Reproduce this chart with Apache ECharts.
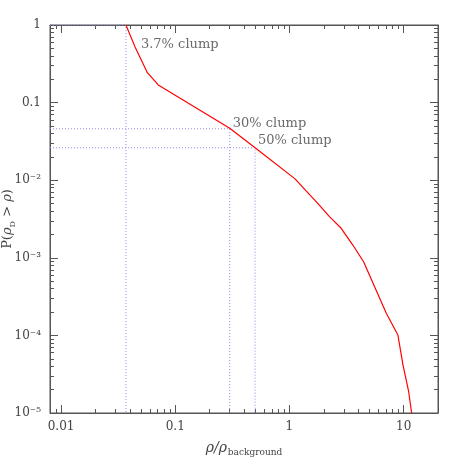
<!DOCTYPE html>
<html><head><meta charset="utf-8">
<script src="https://cdn.jsdelivr.net/npm/echarts@6/dist/echarts.min.js"></script>
<style>html,body{margin:0;padding:0;background:#fff}#c{width:463px;height:463px}</style>
</head><body><div id="c"></div>
<script>
// Cumulative distribution P(rho_D > rho) vs rho/rho_background
const rho  = [0.037, 0.045, 0.057, 0.071, 0.3, 0.5, 1.12, 1.40, 1.77, 2.24, 2.84, 3.59, 4.46, 7.05, 8.91, 9.87, 11.07, 11.75];
const prob = [1, 0.5, 0.243, 0.169, 0.0467, 0.0262, 0.0104, 0.0073, 0.00504, 0.00339, 0.0024, 0.00146, 0.00089, 1.93e-4, 1.01e-4, 4.16e-5, 1.88e-5, 1e-5];

// clump markers
const clumpRho = [0.037, 0.3, 0.5];
const clumpProb = [1, 0.046, 0.0262];
const clumpLabels = ['3.7% clump', '30% clump', '50% clump'];

// axes
const xMin = 0.008, xMax = 20;
const yMin = 1e-5, yMax = 1;
const xMajorTicks = [0.01, 0.1, 1, 10];
const xTickLabels = ['0.01', '0.1', '1', '10'];
const xAllTicks = [0.008, 0.009, 0.01, 0.02, 0.03, 0.04, 0.05, 0.06, 0.07, 0.08, 0.09, 0.1, 0.2, 0.3, 0.4, 0.5, 0.6, 0.7, 0.8, 0.9, 1, 2, 3, 4, 5, 6, 7, 8, 9, 10, 20];
const yMajorTicks = [1e-5, 1e-4, 1e-3, 1e-2, 0.1, 1];
const yTickLabels = ['10\u207B\u2075', '10\u207B\u2074', '10\u207B\u00B3', '10\u207B\u00B2', '0.1', '1'];
const yAllTicks = [1e-5,2e-5,3e-5,4e-5,5e-5,6e-5,7e-5,8e-5,9e-5,1e-4,2e-4,3e-4,4e-4,5e-4,6e-4,7e-4,8e-4,9e-4,1e-3,2e-3,3e-3,4e-3,5e-3,6e-3,7e-3,8e-3,9e-3,0.01,0.02,0.03,0.04,0.05,0.06,0.07,0.08,0.09,0.1,0.2,0.3,0.4,0.5,0.6,0.7,0.8,0.9,1];

const FONT = 'DejaVu Serif';
const TXT = '#444';
const AX = '#555';

function lab(ticks, labels) {
  return function (v) {
    let best = 0, bd = Infinity;
    for (let i = 0; i < ticks.length; i++) {
      const d = Math.abs(Math.log10(v) - Math.log10(ticks[i]));
      if (d < bd) { bd = d; best = i; }
    }
    return bd < 1e-6 ? labels[best] : '';
  };
}

function xAx(pos, values, len, withLabels, withLine, name) {
  const o = {
    type: 'log', logBase: 10, min: xMin, max: xMax, position: pos,
    axisLine: { show: withLine, lineStyle: { color: AX, width: 1 } },
    axisTick: { show: true, inside: true, length: len, customValues: values, lineStyle: { color: AX, width: 1 } },
    axisLabel: withLabels ? { show: true, customValues: xMajorTicks, formatter: lab(xMajorTicks, xTickLabels), color: TXT, fontFamily: FONT, fontSize: 12, margin: 8 } : { show: false },
    splitLine: { show: false }, minorTick: { show: false }, minorSplitLine: { show: false }
  };
  if (name) {
    o.name = name; o.nameLocation = 'middle'; o.nameGap = 26; o.nameMoveOverlap = false;
    o.nameTextStyle = { color: TXT, fontFamily: FONT, rich: {
      a: { fontSize: 14, fontFamily: FONT, color: TXT, fontStyle: 'italic', lineHeight: 18, verticalAlign: 'middle' },
      s: { fontSize: 9, fontFamily: FONT, color: TXT, lineHeight: 18, verticalAlign: 'bottom', padding: [0, 0, 0, 1] }
    } };
  }
  return o;
}
function yAx(pos, values, len, withLabels, withLine, name) {
  const o = {
    type: 'log', logBase: 10, min: yMin, max: yMax, position: pos,
    axisLine: { show: withLine, lineStyle: { color: AX, width: 1 } },
    axisTick: { show: true, inside: true, length: len, customValues: values, lineStyle: { color: AX, width: 1 } },
    axisLabel: withLabels ? { show: true, customValues: yMajorTicks, formatter: lab(yMajorTicks, yTickLabels), color: TXT, fontFamily: FONT, fontSize: 12, margin: 9 } : { show: false },
    splitLine: { show: false }, minorTick: { show: false }, minorSplitLine: { show: false }
  };
  if (name) {
    o.name = name; o.nameLocation = 'middle'; o.nameGap = 33; o.nameMoveOverlap = false;
    o.nameTextStyle = { color: TXT, fontFamily: FONT, rich: {
      a: { fontSize: 13, fontFamily: FONT, color: TXT, lineHeight: 18, verticalAlign: 'middle' },
      i: { fontSize: 13, fontFamily: FONT, color: TXT, fontStyle: 'italic', lineHeight: 18, verticalAlign: 'middle' },
      s: { fontSize: 8, fontFamily: FONT, color: TXT, lineHeight: 18, verticalAlign: 'bottom' }
    } };
  }
  return o;
}

const chart = echarts.init(document.getElementById('c'), null, { renderer: 'canvas' });

const curve = rho.map((r, i) => [r, prob[i]]);
const guideSeries = clumpRho.map((r, i) => ({
  type: 'line', xAxisIndex: 0, yAxisIndex: 0, symbol: 'none', silent: true, z: 1,
  lineStyle: { color: '#8a8af0', width: 1, type: [1, 2] },
  data: [[xMin, clumpProb[i]], [r, clumpProb[i]], [r, yMin]]
}));
const labelOffsets = [[15, 20], [3, -5], [3, -7]];

chart.setOption({
  animation: false,
  backgroundColor: '#fff',
  grid: { left: 50, right: 25, top: 25, bottom: 50, containLabel: false, outerBoundsMode: 'none', show: true, borderColor: AX, borderWidth: 1 },
  xAxis: [
    xAx('bottom', xAllTicks, 4, true, true, '{a|\u03C1/\u03C1}{s|background}'),
    xAx('bottom', xMajorTicks, 8, false, false),
    xAx('top', xAllTicks, 4, false, true),
    xAx('top', xMajorTicks, 8, false, false)
  ],
  yAxis: [
    yAx('left', yAllTicks, 4, true, true, '{a|P(}{i|\u03C1}{s|D}{a| > }{i|\u03C1}{a|)}'),
    yAx('left', yMajorTicks, 8, false, false),
    yAx('right', yAllTicks, 4, false, true),
    yAx('right', yMajorTicks, 8, false, false)
  ],
  series: guideSeries.concat([
    {
      type: 'line', xAxisIndex: 0, yAxisIndex: 0, symbol: 'none', z: 3,
      lineStyle: { color: '#ff0000', width: 1.2 },
      data: curve
    },
    {
      type: 'scatter', xAxisIndex: 0, yAxisIndex: 0, symbolSize: 0, z: 4, silent: true,
      data: clumpRho.map((r, i) => ({
        value: [r, clumpProb[i]],
        label: { show: true, position: 'right', distance: 0, offset: labelOffsets[i], formatter: clumpLabels[i],
          color: TXT, fontFamily: FONT, fontSize: 13 }
      }))
    }
  ])
});
</script>
</body></html>
